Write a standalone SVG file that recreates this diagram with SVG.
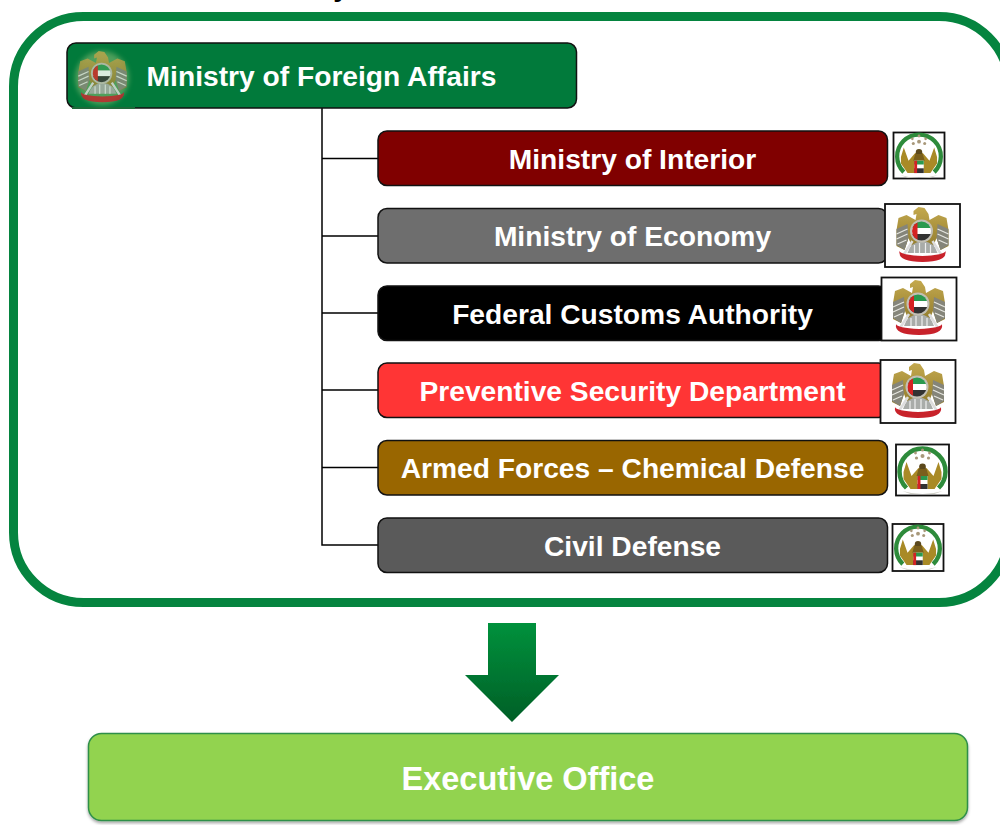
<svg xmlns="http://www.w3.org/2000/svg" xmlns:xlink="http://www.w3.org/1999/xlink" width="1000" height="825" viewBox="0 0 1000 825">
<style>
text{font-family:"Liberation Sans",Arial,sans-serif;font-weight:bold;fill:#fff;text-anchor:middle}
.t{font-size:28.2px}
.box{stroke:#111;stroke-width:1.5}
.frame{fill:#fff;stroke:#111;stroke-width:1.8}
.conn{fill:none;stroke:#000;stroke-width:1.5}
</style>
<defs>
<linearGradient id="arrowGrad" x1="0" y1="0" x2="0" y2="1"><stop offset="0" stop-color="#00913c"/><stop offset="1" stop-color="#005f27"/></linearGradient>
<linearGradient id="goldGrad" x1="0" y1="0" x2="0" y2="1"><stop offset="0" stop-color="#c4a94e"/><stop offset="1" stop-color="#8f7a2c"/></linearGradient>
<filter id="soft" x="-20%" y="-20%" width="140%" height="140%"><feGaussianBlur stdDeviation="0.55"/></filter>
<filter id="glow" x="-30%" y="-30%" width="160%" height="160%"><feGaussianBlur stdDeviation="2.5"/></filter>
<filter id="shadow" x="-5%" y="-10%" width="110%" height="125%"><feDropShadow dx="0" dy="2" stdDeviation="1.5" flood-color="#000" flood-opacity="0.35"/></filter>
<clipPath id="disc"><circle cx="-1" cy="-5" r="9.5"/></clipPath>
<g id="eagle" filter="url(#soft)">
<path d="M-9-25 L-4-29 L2-28 L6-22 L7-16 L16-21 L24-18 L26-6 L26 10 L18 14 L14 2 L10 12 L-10 12 L-14 2 L-18 14 L-26 10 L-26-6 L-24-18 L-16-21 L-7-16 L-6-22 L-9-21Z" fill="url(#goldGrad)"/>
<path d="M-26-7 L-15-12 L-14 2 L-18 14 L-26 9Z M26-7 L15-12 L14 2 L18 14 L26 9Z" fill="#85857a"/>
<path d="M-26-2 L-15-7 M-26 3 L-15-2 M-25 8 L-16 4 M26-2 L15-7 M26 3 L15-2 M25 8 L16 4" stroke="#e6e6e0" stroke-width="1.3" fill="none"/>
<path d="M-15 17 Q-12 6 0 5 Q12 6 15 17Z" fill="#a9aca9"/>
<path d="M-8 17V9 M-3 17V7 M3 17V7 M8 17V9" stroke="#eee" stroke-width="1.2"/>
<path d="M-10 5 L-19 19 M10 5 L19 19" stroke="#ddd" stroke-width="2.5"/>
<circle cx="-1" cy="-5" r="11.5" fill="#c2bfb4"/>
<g clip-path="url(#disc)"><rect x="-11" y="-15" width="20" height="7" fill="#2a9a50"/><rect x="-11" y="-8" width="20" height="6" fill="#fff"/><rect x="-11" y="-2" width="20" height="7" fill="#333"/><rect x="-11" y="-15" width="6" height="20" fill="#d42020"/></g>
<path d="M-23 15 Q-25 26 0 26 Q25 26 23 15 Q22 19 0 20 Q-22 19 -23 15Z" fill="#c8202c"/>
</g>
<g id="seal" filter="url(#soft)">
<path d="M-16 18 A23 23 0 1 1 16 18" fill="none" stroke="#2d8b3a" stroke-width="4.500"/>
<path d="M-20 21 Q0 27 20 21 L12 24 L-12 24Z" fill="#cfcfc6"/>
<path d="M-4-2 L-11 6 L-16-8 L-19 2 L-19 9 L-12 19 L12 19 L19 9 L19 2 L16-8 L11 6 L4-2Z" fill="#a98a28"/>
<g fill="#a8987a"><circle cx="0" cy="-14" r="2"/><circle cx="-6" cy="-12" r="1.6"/><circle cx="6" cy="-12" r="1.6"/><circle cx="-7" cy="-17" r="1.4"/><circle cx="7" cy="-17" r="1.4"/><circle cx="0" cy="-20" r="1.5"/></g>
<circle cx="0" cy="-3" r="3.4" fill="#5c4a1e"/>
<path d="M-4-1 L4-1 L6 6 L-6 6Z" fill="#7a5f1c"/>
<rect x="-5" y="6" width="10" height="13" fill="#fff"/><rect x="-5" y="6" width="10" height="4" fill="#2a9a50"/><rect x="-5" y="14" width="10" height="5" fill="#333"/><rect x="-5" y="6" width="3" height="13" fill="#d42020"/>
</g>
</defs>

<text x="341" y="-4.500" font-size="28" style="fill:#000">y</text>

<g id="container"><rect x="13.500" y="16.500" width="995.500" height="586" rx="70" ry="70" fill="#fff" stroke="#05843f" stroke-width="9"/></g>

<g id="connectors">
<path class="conn" d="M322 108V545H378M322 158.500H378M322 236H378M322 313H378M322 390H378M322 467.500H378"/>
</g>

<g id="node-mofa">
<rect class="box" x="67" y="43" width="509.500" height="65" rx="9" fill="#017a3b"/>
<path d="M72 108H135" stroke="#1e6a3a" stroke-width="2"/>
<ellipse cx="102" cy="78" rx="27" ry="27" fill="#9cc47c" opacity="0.5" filter="url(#glow)"/>
<use xlink:href="#eagle" href="#eagle" transform="translate(102.500 78) scale(.93)" opacity="0.8"/>
<text x="321.500" y="86" class="t">Ministry of Foreign Affairs</text>
</g>
<g id="node-interior">
<rect class="box" x="378" y="131" width="509.500" height="54.500" rx="9" fill="#800000"/>
<text x="632.500" y="169" class="t">Ministry of Interior</text>
<rect class="frame" x="893.500" y="132.500" width="51" height="46"/>
<use xlink:href="#seal" href="#seal" transform="translate(919 155) scale(.95)"/>
</g>
<g id="node-economy">
<rect class="box" x="378" y="208.500" width="509.500" height="54.500" rx="9" fill="#6e6e6e"/>
<text x="632.500" y="246" class="t">Ministry of Economy</text>
<rect class="frame" x="885" y="204" width="75" height="63"/>
<use xlink:href="#eagle" href="#eagle" transform="translate(922.500 236)"/>
</g>
<g id="node-customs">
<rect class="box" x="378" y="286" width="509.500" height="54.500" rx="9" fill="#000"/>
<text x="632.500" y="324" class="t">Federal Customs Authority</text>
<rect class="frame" x="881.500" y="277.500" width="75" height="63"/>
<use xlink:href="#eagle" href="#eagle" transform="translate(919 309)"/>
</g>
<g id="node-security">
<rect class="box" x="378" y="363" width="509.500" height="54.500" rx="9" fill="#ff3535"/>
<text x="632.500" y="401" class="t">Preventive Security Department</text>
<rect class="frame" x="880.500" y="360" width="75" height="63"/>
<use xlink:href="#eagle" href="#eagle" transform="translate(918 392)"/>
</g>
<g id="node-armed">
<rect class="box" x="378" y="440.500" width="509.500" height="54.500" rx="9" fill="#996600"/>
<text x="632.500" y="478" class="t">Armed Forces – Chemical Defense</text>
<rect class="frame" x="896" y="444.500" width="53" height="51"/>
<use xlink:href="#seal" href="#seal" transform="translate(922.500 470)"/>
</g>
<g id="node-civil">
<rect class="box" x="378" y="518" width="509.500" height="54.500" rx="9" fill="#5a5a5a"/>
<text x="632.500" y="555.500" class="t">Civil Defense</text>
<rect class="frame" x="892.500" y="524" width="51" height="47"/>
<use xlink:href="#seal" href="#seal" transform="translate(918 547) scale(.95)"/>
</g>

<g id="arrow"><path d="M488 623H536V675H559L512 722L465 675H488Z" fill="url(#arrowGrad)" filter="url(#soft)"/></g>

<g id="node-executive">
<rect x="88.500" y="733.500" width="879" height="87" rx="13" fill="#92d34f" stroke="#2f8f4a" stroke-width="1.5" filter="url(#shadow)"/>
<text x="528" y="790" font-size="32.500">Executive Office</text>
</g>
</svg>
